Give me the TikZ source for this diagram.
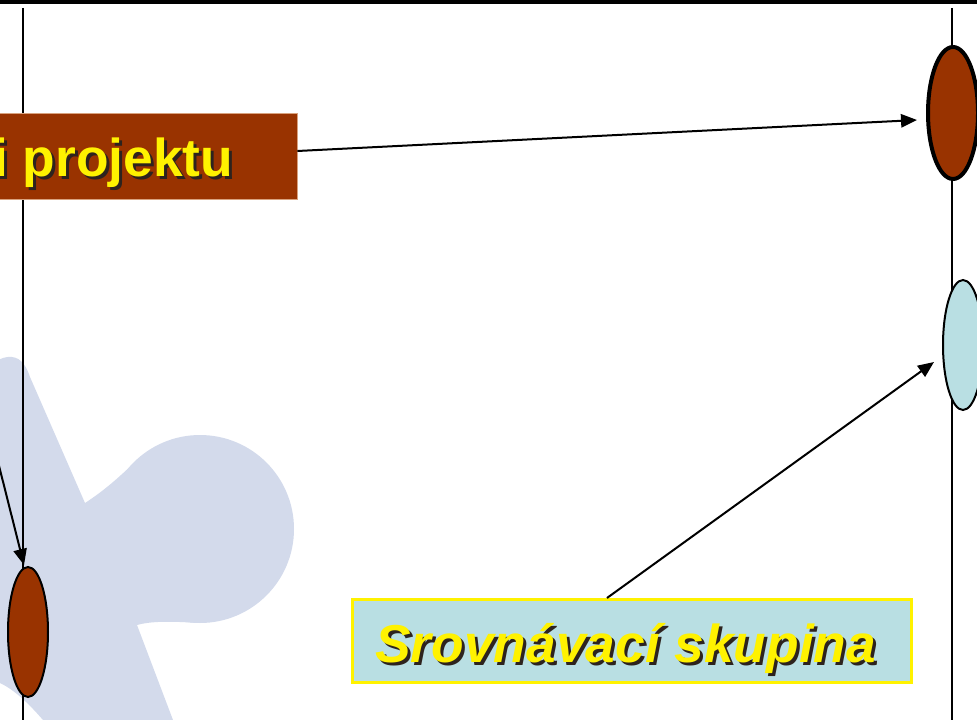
\documentclass[tikz,border=0pt]{standalone}
\usepackage{fontspec}
\setmainfont{Liberation Sans}
\usetikzlibrary{arrows.meta,shapes.geometric}
\definecolor{brownfill}{HTML}{993300}
\definecolor{cyanfill}{HTML}{B9DFE3}
\definecolor{lav}{RGB}{211,218,235}
\definecolor{boxedge}{HTML}{D9A27E}
\definecolor{shadowc}{RGB}{45,35,30}
\newcommand\shadowtxt[1]{\makebox[0pt][l]{\hspace*{2.25pt}\raisebox{-2.25pt}{\color{shadowc}#1}}#1}
\begin{document}
\begin{tikzpicture}[x=0.75pt,y=-0.75pt,
  vline/.style={line width=1.5pt},
  arr/.style={line width=1.5pt,-{Triangle[length=12pt,width=10pt]}},
  ell/.style={ellipse,draw,line width=1.5pt,inner sep=0pt},
  labeltext/.style={font=\bfseries\fontsize{40}{48}\selectfont,inner sep=0pt,text=yellow}]
\useasboundingbox (0,0) rectangle (977,720);
% background watermark shape
\fill[lav] (200,529) circle[radius=94];
\fill[lav] (-20,380) .. controls (-10,362) and (2,356) .. (12,357)
  .. controls (22,358) and (27,368) .. (30,377)
  -- (85,503) .. controls (105,490) and (118,478) .. (134,463)
  -- (200,529) -- (200,623) .. controls (180,622) and (155,620) .. (137,625)
  -- (173,720) -- (43,720) .. controls (30,705) and (15,690) .. (0,683)
  -- (-20,683) -- cycle;
% top rule
\fill[black] (0,0) rectangle (977,4);
% vertical lines
\coordinate (l1t) at (23,8);
\coordinate (l1b) at (23,720);
\coordinate (l2t) at (952,8);
\coordinate (l2b) at (952,720);
\draw[vline] (l1t) -- (l1b);
\draw[vline] (l2t) -- (l2b);
% ellipses
\node[ell,fill=brownfill,line width=3pt,minimum width=37.5pt,minimum height=99pt] (E1) at (953,113) {};
\node[ell,fill=cyanfill,minimum width=30pt,minimum height=97.5pt] (E2) at (963,345) {};
\node[ell,fill=brownfill,minimum width=30pt,minimum height=97.5pt] (E3) at (28,632) {};
% boxes
\node[draw=boxedge,line width=0.6pt,fill=brownfill,inner sep=0pt,minimum width=237.75pt,minimum height=64.5pt] (pbox) at (138.5,156) {};
\node[draw=yellow,line width=2.25pt,fill=cyanfill,inner sep=0pt,minimum width=419.25pt,minimum height=62.25pt] (sbox) at (631.5,641) {};
% texts
\node[labeltext,anchor=base west] (ptext) at (-7,177) {\shadowtxt{i projektu}};
\node[labeltext,anchor=base west] (stext) at (375,662) {\shadowtxt{\itshape Srovnávací skupina}};
% arrows
\coordinate (a2s) at (-10,430);
\draw[arr] ([yshift=3.75pt]pbox.east) -- ([xshift=-6.75pt,yshift=-5.25pt]E1.west);
\draw[arr] (a2s) -- ([xshift=-3pt,yshift=0.75pt]E3.north);
\draw[arr] ([xshift=-18.4pt]sbox.north) -- ([xshift=-6pt,yshift=-12.75pt]E2.west);
\end{tikzpicture}
\end{document}
